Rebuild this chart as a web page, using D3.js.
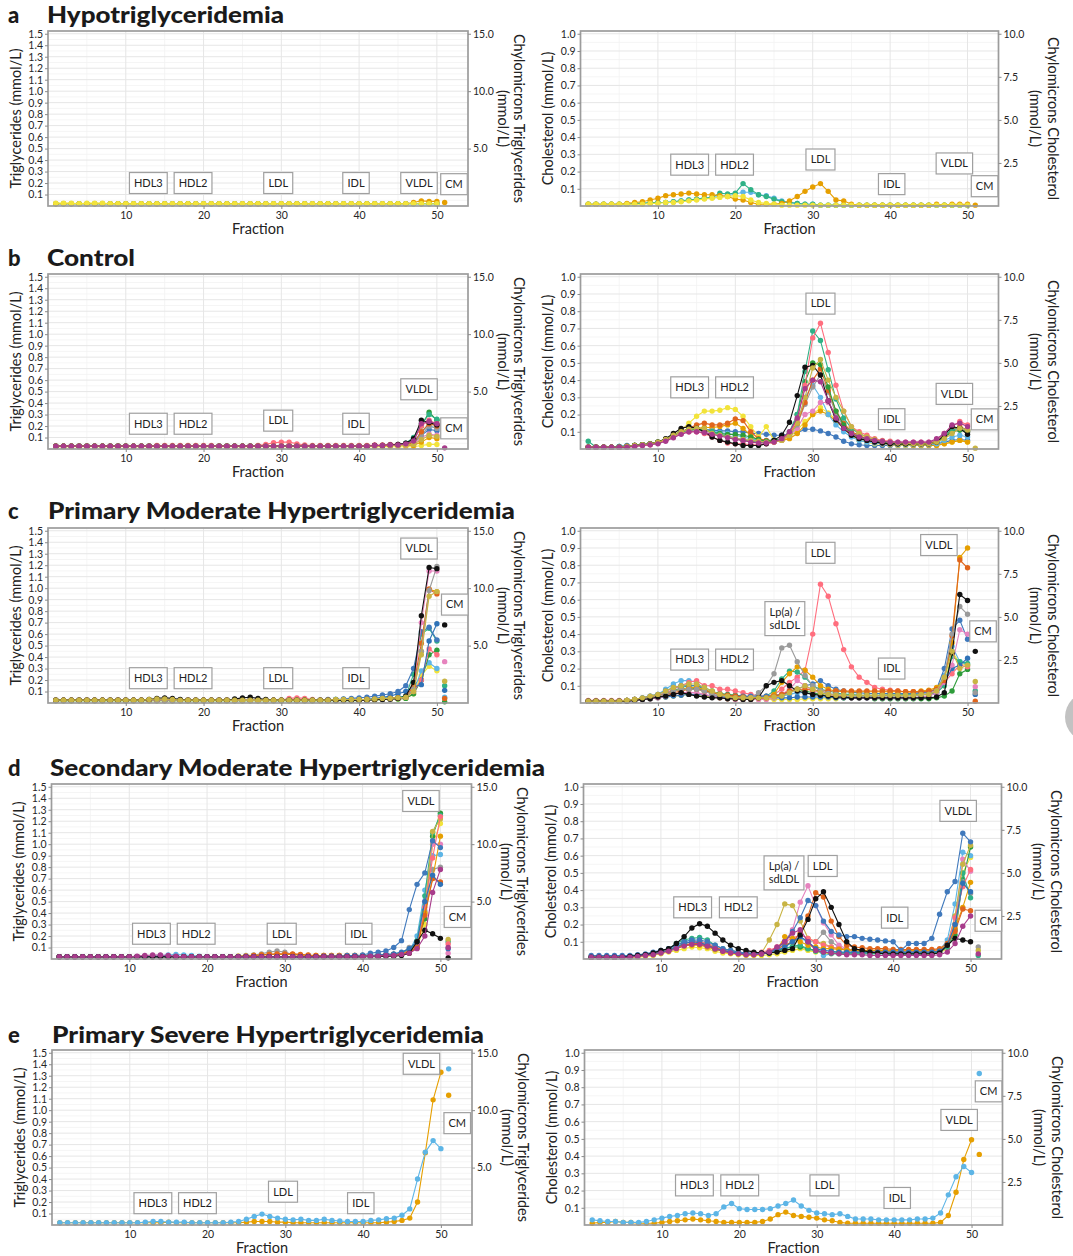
<!DOCTYPE html>
<html>
<head>
<meta charset="utf-8">
<script src="https://cdn.jsdelivr.net/npm/d3@7"></script>
<style>
  body { margin: 0; background: #fff; }
  text { font-family: Lato, "Open Sans", "DejaVu Sans", sans-serif; }
</style>
</head>
<body>
<script>
// fractions 1..50 are connected, fraction 51 (CM) is a lone point on the right axis
const fractions = [1,2,3,4,5,6,7,8,9,10,11,12,13,14,15,16,17,18,19,20,21,22,23,24,25,26,27,28,29,30,31,32,33,34,35,36,37,38,39,40,41,42,43,44,45,46,47,48,49,50];
const cmFraction = 51;
const tgTicks = [0.1,0.2,0.3,0.4,0.5,0.6,0.7,0.8,0.9,1.0,1.1,1.2,1.3,1.4,1.5];
const cholTicks = [0.1,0.2,0.3,0.4,0.5,0.6,0.7,0.8,0.9,1.0];
const tgRightTicks = [5, 10, 15];
const cholRightTicks = [2.5, 5, 7.5, 10];
const fractionTicks = [10, 20, 30, 40, 50];

const pal = {
  orange: "#E69F00", skyblue: "#5DB5E6", teal: "#2FB186", yellow: "#F2E33A",
  steel: "#4079BC", blue: "#2F72B7", vermillion: "#E0651C", pink: "#E683BE",
  black: "#111111", gray: "#9A9A9A", salmon: "#FF6E7E", olive: "#C8B444",
  green: "#2E9C3A", magenta: "#A83B8B"
};

// ---------- a: Hypotriglyceridemia ----------
const hypoColors = [pal.skyblue, pal.teal, pal.orange, pal.yellow];
const hypoTg = [
  [.02,.02,.02,.02,.02,.02,.02,.02,.02,.02, .02,.02,.02,.02,.02,.02,.02,.02,.02,.02, .02,.02,.02,.02,.02,.02,.02,.02,.02,.02, .02,.02,.02,.02,.02,.02,.02,.02,.02,.02, .02,.02,.02,.02,.02,.02,.02,.02,.02,.02],
  [.02,.02,.02,.02,.02,.02,.02,.02,.02,.02, .02,.02,.02,.02,.02,.02,.02,.02,.02,.02, .02,.02,.02,.02,.02,.02,.02,.02,.02,.02, .02,.02,.02,.02,.02,.02,.02,.02,.02,.02, .02,.02,.02,.02,.02,.02,.02,.02,.02,.02],
  [.02,.02,.02,.02,.02,.02,.02,.02,.02,.02, .02,.02,.02,.02,.02,.02,.02,.02,.02,.02, .02,.02,.02,.02,.02,.02,.02,.02,.02,.02, .02,.02,.02,.02,.02,.02,.02,.02,.02,.02, .02,.02,.02,.02,.02,.02,.03,.045,.04,.04],
  [.025,.025,.025,.02,.025,.025,.025,.02,.02,.02, .02,.02,.02,.02,.02,.02,.02,.02,.02,.02, .02,.02,.02,.02,.02,.02,.02,.02,.02,.02, .02,.02,.02,.02,.02,.02,.02,.02,.02,.02, .02,.02,.02,.02,.02,.02,.02,.02,.02,.02]
];
const hypoTgCM = [null, null, 0.3, null];
const hypoChol = [
  [.01,.01,.01,.01,.01,.01,.015,.015,.015,.02, .02,.025,.03,.035,.04,.045,.05,.055,.06,.07, .08,.08,.065,.06,.045,.03,.02,.015,.01,.01, .005,.005,.005,.005,.005,.005,.005,.005,.005,.005, .005,.005,.005,.005,.005,.005,.005,.005,.005,.005],
  [.01,.01,.01,.01,.01,.01,.015,.015,.02,.02, .02,.025,.03,.035,.04,.045,.05,.075,.07,.075, .13,.095,.065,.055,.04,.025,.02,.015,.01,.01, .005,.005,.005,.005,.005,.005,.005,.005,.005,.005, .005,.005,.005,.005,.005,.005,.005,.005,.005,.005],
  [.01,.01,.01,.01,.01,.015,.02,.025,.035,.045, .06,.065,.07,.075,.07,.065,.065,.06,.055,.04, .035,.02,.01,.01,.01,.015,.03,.055,.085,.11, .13,.085,.035,.03,.01,.005,.005,.005,.005,.005, .005,.005,.005,.005,.005,.01,.005,.01,.01,.01],
  [.01,.01,.01,.01,.01,.01,.01,.01,.015,.015, .02,.02,.025,.03,.035,.04,.045,.05,.055,.06, .055,.035,.02,.015,.01,.005,.005,.005,.005,.005, .005,.005,.005,.005,.005,.005,.005,.005,.005,.005, .005,.005,.005,.005,.005,.005,.005,.005,.005,.005]
];
const hypoCholCM = [null, null, 0.05, null];
const hypoTgLabels = [["HDL3",12.9,.2],["HDL2",18.65,.2],["LDL",29.6,.2],["IDL",39.6,.2],["VLDL",47.7,.2],["CM",52.2,.19]];
const hypoCholLabels = [["HDL3",14.1,.24],["HDL2",19.9,.24],["LDL",31,.27],["IDL",40.2,.127],["VLDL",48.3,.247],["CM",52.2,.115]];

// ---------- b: Control ----------
const ctrlColors = [pal.steel, pal.yellow, pal.orange, pal.skyblue, pal.pink, pal.gray, pal.vermillion, pal.green, pal.teal, pal.salmon, pal.black, pal.olive, pal.magenta];
const ctrlTg = [
  [.025,.025,.025,.025,.025,.025,.025,.025,.025,.025, .025,.025,.025,.025,.025,.025,.025,.025,.025,.025, .025,.025,.025,.025,.025,.025,.025,.025,.025,.025, .025,.025,.025,.025,.025,.025,.025,.025,.025,.025, .025,.03,.03,.03,.035,.04,.05,.12,.17,.16],
  [.02,.02,.02,.02,.02,.02,.02,.02,.02,.02, .02,.02,.02,.02,.02,.02,.02,.02,.02,.02, .02,.02,.02,.02,.02,.02,.02,.02,.02,.02, .02,.02,.02,.02,.02,.02,.02,.02,.02,.02, .02,.02,.02,.02,.02,.02,.02,.03,.04,.04],
  [.025,.025,.025,.025,.025,.025,.025,.025,.025,.025, .025,.025,.025,.025,.025,.025,.025,.025,.025,.025, .025,.025,.025,.025,.025,.025,.025,.025,.025,.025, .025,.025,.025,.025,.025,.025,.025,.025,.025,.025, .025,.025,.025,.03,.03,.03,.03,.06,.1,.09],
  [.025,.025,.025,.025,.025,.025,.025,.025,.025,.025, .025,.025,.025,.025,.025,.025,.025,.025,.025,.025, .025,.025,.025,.025,.025,.025,.025,.025,.025,.025, .025,.025,.025,.025,.025,.025,.025,.025,.025,.025, .025,.03,.03,.03,.035,.04,.06,.15,.2,.18],
  [.025,.025,.025,.025,.025,.025,.025,.025,.025,.025, .025,.025,.025,.025,.025,.025,.025,.025,.025,.025, .025,.025,.025,.025,.025,.025,.025,.025,.025,.025, .025,.025,.025,.025,.025,.025,.025,.025,.025,.025, .025,.025,.03,.03,.03,.035,.04,.1,.13,.12],
  [.025,.025,.025,.025,.025,.025,.025,.025,.025,.025, .025,.025,.025,.025,.025,.025,.025,.025,.025,.025, .025,.025,.025,.025,.025,.025,.025,.025,.025,.025, .025,.025,.025,.025,.025,.025,.025,.025,.025,.025, .025,.03,.03,.03,.035,.04,.05,.12,.2,.18],
  [.025,.025,.025,.025,.025,.025,.025,.025,.025,.025, .025,.025,.025,.025,.025,.025,.025,.025,.025,.025, .025,.025,.025,.025,.025,.025,.025,.025,.025,.025, .025,.025,.025,.025,.025,.025,.025,.025,.025,.025, .025,.03,.03,.03,.035,.04,.05,.15,.22,.2],
  [.025,.025,.025,.025,.025,.025,.025,.025,.025,.025, .025,.025,.025,.025,.025,.025,.025,.025,.025,.025, .025,.025,.025,.025,.025,.025,.025,.025,.025,.025, .025,.025,.025,.025,.025,.025,.025,.025,.025,.025, .025,.03,.03,.035,.035,.045,.08,.2,.32,.25],
  [.025,.025,.025,.025,.025,.025,.025,.025,.025,.025, .025,.025,.025,.025,.025,.025,.025,.025,.025,.025, .025,.025,.025,.025,.025,.025,.025,.025,.025,.025, .025,.025,.025,.025,.025,.025,.025,.025,.025,.025, .025,.03,.03,.035,.04,.05,.1,.22,.3,.26],
  [.025,.025,.025,.025,.025,.025,.025,.025,.025,.025, .025,.025,.025,.03,.03,.03,.03,.03,.03,.03, .03,.025,.025,.025,.025,.025,.03,.04,.055,.06, .06,.045,.035,.03,.03,.03,.03,.03,.03,.03, .03,.035,.035,.04,.04,.045,.07,.2,.25,.22],
  [.025,.025,.025,.025,.025,.025,.025,.025,.025,.025, .025,.025,.025,.025,.025,.025,.025,.025,.025,.025, .025,.025,.025,.025,.025,.025,.025,.025,.025,.025, .025,.025,.025,.025,.025,.025,.025,.025,.025,.025, .025,.03,.03,.035,.04,.05,.09,.25,.23,.21],
  [.025,.025,.025,.025,.025,.025,.025,.025,.025,.025, .025,.025,.025,.025,.025,.025,.025,.025,.025,.025, .025,.025,.025,.025,.025,.025,.025,.025,.025,.025, .025,.025,.025,.025,.025,.025,.025,.025,.025,.025, .025,.025,.03,.03,.03,.035,.04,.08,.12,.11],
  [.025,.025,.025,.025,.025,.025,.025,.025,.025,.025, .025,.025,.025,.025,.025,.025,.025,.025,.025,.025, .025,.025,.025,.025,.025,.025,.025,.025,.025,.025, .025,.025,.025,.025,.025,.025,.025,.025,.025,.025, .025,.03,.03,.035,.035,.045,.07,.22,.24,.22]
];
const ctrlTgCM = [null,null,null,null,null,null,null,null,null,null,null,null,0.1];
const ctrlChol = [
  [.01,.01,.01,.01,.015,.02,.02,.025,.03,.04, .055,.08,.1,.11,.12,.115,.11,.105,.105,.1, .1,.09,.09,.085,.08,.08,.085,.095,.115,.115, .105,.09,.07,.045,.03,.025,.02,.02,.02,.02, .02,.02,.02,.02,.025,.03,.04,.05,.055,.05],
  [.01,.01,.01,.01,.01,.015,.02,.025,.03,.04, .055,.08,.11,.15,.19,.22,.22,.225,.24,.23, .19,.13,.07,.13,.05,.05,.07,.11,.16,.2, .24,.21,.17,.12,.08,.05,.04,.03,.03,.025, .02,.02,.02,.02,.02,.02,.03,.04,.05,.04],
  [.01,.01,.01,.01,.01,.015,.02,.025,.03,.04, .055,.08,.1,.11,.12,.125,.125,.13,.14,.15, .12,.08,.05,.04,.04,.05,.06,.09,.14,.2, .22,.2,.16,.12,.08,.06,.05,.04,.03,.03, .025,.025,.02,.02,.02,.02,.03,.04,.05,.04],
  [.01,.01,.01,.01,.015,.015,.02,.025,.03,.04, .055,.08,.1,.115,.12,.115,.105,.095,.09,.08, .07,.06,.05,.05,.05,.06,.09,.15,.3,.37, .3,.2,.14,.1,.07,.05,.04,.035,.03,.03, .025,.025,.025,.025,.025,.03,.05,.07,.08,.07],
  [.01,.01,.01,.01,.01,.015,.02,.02,.025,.035, .05,.07,.09,.1,.1,.095,.09,.08,.07,.06, .05,.045,.04,.04,.04,.05,.08,.12,.2,.22, .27,.27,.2,.14,.1,.07,.05,.04,.035,.03, .03,.03,.03,.03,.03,.04,.07,.1,.12,.1],
  [.01,.01,.01,.01,.01,.015,.02,.025,.03,.04, .055,.075,.095,.105,.11,.105,.095,.085,.075,.065, .055,.05,.045,.045,.05,.06,.08,.14,.26,.36, .43,.33,.2,.13,.09,.07,.05,.04,.035,.03, .03,.03,.03,.03,.03,.04,.07,.1,.11,.1],
  [.01,.01,.01,.01,.01,.015,.02,.025,.03,.04, .055,.08,.1,.12,.14,.15,.14,.14,.15,.175, .165,.1,.06,.05,.05,.06,.09,.15,.27,.4, .465,.34,.22,.15,.1,.08,.06,.05,.04,.035, .03,.03,.03,.03,.03,.04,.07,.11,.13,.11],
  [.01,.01,.01,.01,.01,.015,.02,.025,.03,.04, .055,.08,.1,.11,.115,.11,.1,.09,.085,.085, .08,.07,.055,.045,.05,.06,.09,.2,.39,.5, .49,.36,.22,.14,.09,.07,.06,.05,.04,.035, .03,.03,.03,.03,.03,.04,.07,.1,.11,.1],
  [.045,.01,.01,.01,.015,.015,.02,.025,.03,.04, .055,.08,.1,.115,.12,.115,.1,.085,.07,.06, .05,.045,.04,.04,.045,.06,.1,.2,.45,.685, .63,.46,.29,.18,.12,.09,.07,.055,.045,.04, .035,.035,.035,.035,.035,.05,.08,.11,.12,.11],
  [.01,.01,.01,.01,.01,.01,.015,.02,.025,.035, .05,.07,.09,.1,.1,.09,.07,.05,.035,.03, .03,.025,.025,.03,.04,.06,.09,.17,.37,.645, .73,.56,.37,.22,.13,.1,.08,.06,.05,.045, .04,.04,.04,.04,.04,.05,.09,.13,.16,.14],
  [.01,.01,.01,.01,.01,.015,.02,.025,.03,.04, .06,.09,.12,.13,.12,.1,.07,.05,.04,.03, .02,.02,.02,.03,.05,.08,.155,.31,.475,.485, .43,.28,.17,.12,.08,.06,.05,.04,.035,.03, .03,.03,.03,.03,.03,.04,.08,.13,.12,.085],
  [.01,.01,.01,.01,.01,.015,.02,.025,.03,.04, .055,.08,.1,.115,.12,.12,.09,.08,.07,.06, .055,.05,.045,.04,.04,.05,.08,.15,.3,.47, .52,.4,.3,.22,.13,.09,.07,.055,.045,.04, .035,.035,.03,.03,.03,.04,.06,.09,.12,.11],
  [.01,.01,.01,.01,.01,.01,.015,.02,.025,.03, .045,.065,.085,.1,.1,.095,.085,.075,.065,.055, .05,.04,.035,.035,.04,.06,.1,.18,.35,.4, .39,.28,.18,.12,.09,.07,.06,.05,.045,.04, .04,.04,.04,.04,.04,.06,.09,.14,.15,.13]
];
const ctrlCholCM = [null,null,null,null,null,null,null,null,null,null,null,0.05,null];
const ctrlTgLabels = [["HDL3",12.9,.22],["HDL2",18.65,.22],["LDL",29.6,.247],["IDL",39.6,.22],["VLDL",47.7,.52],["CM",52.2,.18]];
const ctrlCholLabels = [["HDL3",14.1,.358],["HDL2",19.9,.358],["LDL",31,.844],["IDL",40.2,.173],["VLDL",48.3,.32],["CM",52.2,.172]];

// ---------- c: Primary Moderate Hypertriglyceridemia ----------
const primColors = [pal.yellow, pal.skyblue, pal.green, pal.salmon, pal.teal, pal.blue, pal.steel, pal.pink, pal.orange, pal.vermillion, pal.gray, pal.black, pal.olive];
const primTg = [
  [.02,.02,.02,.02,.02,.02,.02,.02,.02,.02, .02,.02,.02,.02,.02,.02,.02,.02,.02,.02, .02,.02,.02,.02,.02,.02,.02,.02,.02,.02, .02,.02,.02,.02,.02,.02,.025,.025,.025,.025, .025,.03,.03,.03,.035,.04,.08,.24,.32,.28],
  [.025,.025,.025,.025,.025,.025,.025,.025,.025,.025, .025,.025,.025,.025,.025,.025,.025,.025,.025,.025, .025,.025,.025,.025,.025,.025,.025,.025,.025,.025, .025,.025,.025,.025,.025,.025,.03,.03,.03,.03, .03,.035,.04,.045,.05,.06,.1,.28,.35,.3],
  [.02,.02,.02,.02,.02,.02,.02,.02,.02,.02, .02,.02,.02,.02,.02,.02,.02,.02,.02,.02, .02,.02,.02,.02,.02,.02,.02,.02,.02,.02, .02,.02,.02,.02,.02,.02,.02,.02,.02,.02, .025,.025,.03,.03,.035,.04,.08,.2,.42,.46],
  [.025,.025,.025,.025,.025,.025,.025,.025,.025,.025, .025,.025,.025,.025,.025,.025,.025,.025,.025,.025, .025,.025,.025,.025,.025,.025,.025,.025,.025,.025, .04,.045,.04,.03,.025,.025,.025,.03,.03,.03, .03,.03,.035,.035,.04,.05,.1,.2,.47,.42],
  [.025,.025,.025,.025,.025,.025,.025,.025,.025,.025, .025,.025,.025,.025,.025,.025,.025,.025,.025,.025, .025,.025,.025,.025,.025,.025,.025,.025,.025,.025, .025,.025,.025,.025,.025,.025,.03,.03,.03,.03, .03,.035,.04,.045,.05,.06,.25,.6,.65,.54],
  [.025,.025,.025,.025,.025,.025,.025,.025,.025,.025, .025,.025,.025,.025,.025,.025,.025,.025,.025,.025, .025,.025,.025,.025,.025,.025,.025,.025,.025,.025, .025,.025,.025,.025,.025,.025,.025,.03,.03,.03, .03,.04,.05,.06,.08,.1,.14,.16,.54,.69],
  [.025,.025,.025,.025,.025,.025,.025,.025,.025,.025, .025,.025,.025,.025,.025,.025,.025,.025,.025,.025, .025,.025,.025,.025,.025,.025,.025,.025,.025,.025, .025,.025,.025,.025,.025,.03,.03,.035,.04,.045, .05,.06,.07,.08,.1,.15,.3,.62,.66,.55],
  [.025,.025,.025,.025,.025,.025,.025,.025,.025,.025, .025,.025,.025,.025,.025,.025,.025,.025,.025,.025, .025,.025,.025,.025,.025,.025,.025,.025,.025,.025, .025,.025,.025,.025,.025,.025,.025,.025,.025,.025, .025,.03,.03,.035,.04,.05,.12,.7,1.15,1.15],
  [.025,.025,.025,.025,.025,.025,.025,.025,.025,.025, .025,.025,.025,.025,.025,.025,.025,.025,.025,.025, .025,.025,.025,.025,.025,.025,.025,.025,.025,.025, .025,.025,.025,.025,.025,.025,.025,.025,.025,.025, .03,.03,.035,.04,.045,.05,.12,.45,.99,.97],
  [.025,.025,.025,.025,.025,.025,.025,.025,.025,.025, .025,.025,.025,.025,.025,.025,.025,.025,.025,.025, .025,.025,.025,.025,.025,.025,.025,.025,.025,.025, .025,.025,.025,.025,.025,.025,.025,.025,.025,.025, .03,.03,.035,.04,.045,.05,.15,.52,.99,.95],
  [.025,.025,.025,.025,.025,.025,.025,.025,.025,.025, .025,.025,.025,.025,.025,.025,.025,.025,.025,.025, .025,.025,.025,.025,.025,.025,.025,.025,.025,.025, .025,.025,.025,.025,.025,.025,.025,.025,.025,.025, .025,.03,.03,.035,.04,.05,.12,.45,.98,1.19],
  [.025,.025,.025,.025,.025,.025,.025,.025,.025,.025, .025,.025,.03,.04,.045,.04,.03,.025,.025,.025, .025,.025,.025,.035,.045,.05,.04,.03,.025,.025, .025,.025,.025,.025,.025,.025,.025,.025,.025,.025, .025,.03,.03,.035,.04,.06,.18,.76,1.18,1.17],
  [.025,.025,.025,.025,.025,.025,.025,.025,.025,.025, .025,.025,.03,.035,.035,.03,.025,.025,.025,.025, .025,.025,.025,.025,.025,.025,.025,.025,.025,.025, .025,.025,.025,.025,.025,.025,.03,.03,.03,.03, .03,.035,.04,.04,.045,.05,.1,.42,.93,.97]
];
const primTgCM = [null, 0.5, 0.1, null, 1.5, 1.1, null, 3.6, null, 0.4, null, 6.8, 1.9];
const primChol = [
  [.01,.01,.01,.01,.01,.015,.015,.02,.025,.03, .035,.04,.045,.05,.045,.04,.035,.03,.025,.02, .02,.02,.02,.02,.02,.02,.02,.02,.025,.025, .025,.025,.025,.03,.03,.03,.035,.04,.045,.05, .05,.055,.06,.065,.07,.08,.1,.3,.23,.22],
  [.01,.01,.01,.01,.01,.015,.02,.03,.04,.05, .08,.11,.13,.13,.12,.08,.05,.04,.035,.03, .03,.03,.03,.03,.035,.04,.05,.06,.06,.05, .045,.04,.04,.04,.04,.04,.04,.04,.045,.045, .045,.05,.05,.055,.06,.08,.16,.33,.24,.22],
  [.01,.01,.01,.01,.01,.015,.02,.025,.03,.04, .06,.07,.08,.08,.085,.07,.065,.055,.05,.045, .04,.035,.03,.03,.035,.05,.07,.08,.07,.06, .05,.04,.035,.03,.03,.03,.03,.025,.025,.025, .025,.025,.025,.025,.025,.03,.04,.07,.17,.195],
  [.015,.015,.015,.015,.015,.015,.02,.025,.03,.04, .06,.08,.1,.12,.13,.1,.1,.08,.08,.07, .06,.05,.04,.04,.05,.08,.12,.15,.19,.4, .69,.62,.46,.31,.21,.15,.12,.09,.08,.075, .07,.065,.065,.06,.06,.07,.12,.17,.22,.21],
  [.01,.01,.01,.01,.01,.015,.02,.025,.03,.04, .05,.07,.09,.1,.1,.09,.07,.05,.04,.03, .03,.03,.03,.04,.07,.14,.185,.18,.15,.1, .08,.07,.06,.05,.05,.045,.045,.045,.045,.045, .045,.05,.05,.05,.05,.06,.1,.27,.24,.23],
  [.01,.01,.01,.01,.01,.01,.015,.02,.025,.03, .035,.04,.045,.05,.05,.045,.04,.035,.03,.03, .03,.03,.03,.03,.03,.03,.03,.035,.035,.035, .035,.035,.03,.03,.03,.03,.03,.03,.03,.03, .03,.03,.03,.035,.04,.06,.12,.2,.22,.26],
  [.01,.01,.01,.01,.01,.015,.02,.03,.04,.05, .07,.09,.1,.1,.1,.08,.06,.05,.045,.04, .04,.04,.04,.04,.045,.05,.06,.08,.1,.11, .13,.1,.08,.07,.06,.06,.055,.055,.055,.055, .055,.055,.055,.06,.065,.08,.2,.43,.48,.37],
  [.01,.01,.01,.01,.01,.01,.015,.02,.025,.03, .04,.05,.06,.06,.06,.05,.04,.03,.025,.02, .02,.02,.02,.02,.03,.05,.08,.13,.1,.07, .06,.05,.04,.035,.03,.03,.03,.03,.03,.03, .03,.03,.03,.035,.04,.06,.12,.22,.425,.4],
  [.01,.01,.01,.01,.01,.015,.02,.025,.03,.04, .05,.07,.08,.09,.09,.08,.06,.05,.04,.035, .03,.03,.03,.03,.05,.12,.17,.21,.19,.15, .1,.08,.07,.065,.065,.065,.065,.065,.065,.065, .065,.065,.065,.07,.075,.09,.14,.35,.845,.9],
  [.01,.01,.01,.01,.01,.015,.02,.025,.03,.04, .05,.06,.07,.08,.08,.07,.06,.05,.045,.04, .035,.03,.03,.03,.04,.05,.07,.08,.08,.075, .07,.07,.07,.07,.07,.07,.07,.07,.07,.07, .07,.065,.065,.065,.07,.08,.13,.39,.83,.785],
  [.01,.01,.01,.01,.01,.015,.02,.025,.03,.04, .05,.07,.08,.08,.08,.07,.05,.04,.035,.03, .03,.03,.06,.1,.17,.32,.335,.24,.16,.1, .07,.055,.05,.045,.04,.04,.04,.04,.04,.04, .04,.04,.04,.045,.05,.07,.15,.4,.56,.515],
  [.01,.01,.01,.01,.01,.01,.015,.02,.025,.035, .04,.05,.06,.05,.04,.035,.03,.03,.025,.025, .02,.02,.03,.1,.12,.13,.1,.07,.06,.05, .045,.04,.035,.035,.03,.03,.03,.03,.03,.03, .03,.03,.03,.03,.03,.035,.06,.29,.63,.595],
  [.01,.01,.01,.01,.01,.015,.02,.03,.04,.05, .07,.09,.1,.11,.11,.09,.07,.05,.04,.03, .03,.03,.03,.03,.035,.04,.06,.08,.1,.08, .06,.05,.045,.045,.045,.045,.045,.045,.045,.045, .045,.045,.045,.05,.05,.07,.15,.3,.2,.22]
];
const primCholCM = [null, null, null, null, 0.7, 0.5, null, 0.95, null, 0.1, 0.6, 3.0, 1.25];
const primTgLabels = [["HDL3",12.9,.216],["HDL2",18.65,.216],["LDL",29.6,.216],["IDL",39.6,.216],["VLDL",47.7,1.345],["CM",52.3,.857]];
const primCholLabels = [["HDL3",14.1,.252],["HDL2",19.9,.252],["Lp(a) /|sdLDL",26.4,.49],["LDL",31,.872],["IDL",40.2,.2],["VLDL",46.3,.917],["CM",52,.416]];

// ---------- d: Secondary Moderate Hypertriglyceridemia ----------
const secColors = [pal.yellow, pal.skyblue, pal.green, pal.gray, pal.pink, pal.teal, pal.olive, pal.salmon, pal.orange, pal.vermillion, pal.blue, pal.steel, pal.black, pal.magenta];
const secTg = [
  [.02,.02,.02,.02,.02,.02,.02,.02,.02,.02, .02,.02,.02,.02,.02,.02,.02,.02,.02,.02, .02,.02,.02,.02,.02,.02,.02,.02,.02,.02, .02,.02,.02,.02,.02,.02,.02,.02,.02,.02, .03,.03,.035,.035,.04,.05,.1,.3,1.0,1.18],
  [.02,.02,.02,.02,.02,.02,.02,.02,.02,.02, .02,.02,.025,.03,.035,.04,.035,.03,.025,.02, .02,.02,.02,.02,.02,.02,.02,.02,.02,.02, .02,.02,.02,.02,.02,.02,.02,.02,.02,.02, .03,.03,.035,.04,.05,.07,.2,.6,.9,.91],
  [.02,.02,.02,.02,.02,.02,.02,.02,.02,.02, .02,.02,.02,.02,.02,.02,.02,.02,.02,.02, .02,.02,.02,.02,.02,.02,.02,.02,.02,.02, .02,.02,.02,.02,.02,.02,.02,.02,.02,.02, .03,.03,.035,.04,.05,.07,.15,.35,1.07,1.27],
  [.02,.02,.02,.02,.02,.02,.02,.02,.02,.02, .02,.02,.02,.02,.02,.02,.02,.02,.02,.02, .02,.02,.02,.025,.03,.035,.045,.06,.07,.06, .04,.03,.03,.025,.025,.025,.025,.025,.03,.03, .03,.035,.035,.04,.05,.1,.14,.42,.78,.8],
  [.02,.02,.02,.02,.02,.02,.02,.02,.02,.02, .02,.02,.02,.02,.02,.02,.02,.02,.02,.02, .02,.02,.02,.02,.02,.02,.02,.02,.02,.02, .02,.02,.02,.02,.02,.02,.02,.02,.02,.02, .03,.03,.035,.04,.045,.06,.12,.5,1.0,1.0],
  [.02,.02,.02,.02,.02,.02,.02,.02,.02,.02, .02,.02,.02,.02,.02,.02,.02,.02,.02,.02, .02,.02,.02,.02,.02,.02,.02,.02,.02,.02, .02,.02,.02,.02,.02,.02,.02,.02,.02,.02, .03,.03,.035,.04,.05,.08,.16,.55,1.1,1.25],
  [.02,.02,.02,.02,.02,.02,.02,.02,.02,.02, .02,.02,.02,.02,.02,.02,.02,.02,.02,.02, .02,.02,.02,.02,.02,.02,.02,.02,.02,.02, .02,.02,.02,.02,.025,.025,.025,.025,.025,.025, .03,.03,.035,.04,.045,.06,.13,.4,1.11,1.22],
  [.02,.02,.02,.02,.02,.02,.02,.02,.02,.02, .02,.02,.02,.02,.02,.02,.02,.02,.02,.02, .02,.02,.02,.02,.02,.02,.02,.02,.02,.02, .02,.02,.02,.02,.02,.02,.02,.02,.02,.02, .03,.03,.035,.04,.05,.07,.12,.45,.88,1.24],
  [.02,.02,.02,.02,.02,.02,.02,.02,.02,.02, .02,.02,.02,.02,.02,.02,.02,.02,.02,.02, .02,.02,.02,.025,.025,.03,.035,.04,.04,.04, .04,.035,.03,.03,.03,.03,.03,.03,.03,.03, .03,.03,.035,.04,.045,.06,.1,.4,.7,1.07],
  [.02,.02,.02,.02,.02,.02,.02,.02,.02,.02, .02,.02,.02,.02,.02,.02,.02,.02,.02,.02, .02,.02,.02,.02,.025,.03,.035,.04,.045,.045, .045,.04,.035,.03,.03,.03,.03,.03,.03,.03, .03,.03,.035,.04,.045,.06,.1,.38,.7,.67],
  [.02,.02,.02,.02,.02,.02,.02,.02,.02,.02, .02,.02,.02,.02,.02,.02,.02,.02,.02,.02, .02,.02,.02,.02,.02,.02,.02,.02,.02,.02, .02,.02,.02,.02,.02,.02,.02,.02,.02,.02, .03,.035,.04,.045,.06,.09,.15,.5,.73,.65],
  [.02,.02,.02,.02,.02,.02,.02,.02,.02,.02, .02,.02,.02,.02,.02,.02,.02,.02,.02,.02, .02,.02,.02,.02,.02,.02,.02,.02,.02,.02, .02,.02,.02,.02,.025,.025,.025,.03,.03,.035, .05,.06,.07,.1,.16,.43,.65,.75,1.03,.97],
  [.02,.02,.02,.02,.02,.02,.02,.02,.02,.02, .02,.02,.02,.02,.02,.02,.02,.02,.02,.02, .02,.02,.02,.02,.02,.02,.02,.02,.02,.02, .02,.02,.02,.02,.02,.02,.02,.02,.02,.02, .02,.02,.025,.025,.03,.05,.15,.25,.22,.18],
  [.02,.02,.02,.02,.02,.02,.02,.02,.02,.02, .025,.03,.035,.035,.03,.025,.02,.02,.02,.02, .02,.02,.02,.02,.02,.02,.02,.02,.02,.02, .02,.02,.02,.02,.02,.02,.02,.02,.02,.02, .025,.025,.03,.03,.04,.05,.09,.2,.58,.78]
];
const secTgCM = [null, null, null, null, 0.5, 1.5, 1.7, 1.3, null, null, 0.9, null, 0.1, 1.0];
const secChol = [
  [.01,.01,.01,.01,.01,.01,.01,.015,.02,.03, .04,.05,.06,.07,.065,.06,.045,.035,.03,.025, .02,.02,.02,.025,.03,.04,.05,.06,.05,.04, .035,.03,.03,.03,.03,.03,.03,.03,.03,.03, .03,.03,.03,.03,.03,.035,.06,.2,.5,.59],
  [.01,.01,.01,.01,.01,.015,.02,.025,.035,.045, .06,.08,.1,.11,.1,.08,.06,.05,.04,.035, .03,.03,.03,.035,.05,.07,.1,.12,.1,.06, .02,.03,.03,.03,.03,.03,.03,.03,.03,.03, .03,.03,.03,.03,.035,.05,.11,.32,.62,.6],
  [.01,.01,.01,.01,.01,.015,.02,.025,.03,.04, .05,.07,.09,.1,.1,.09,.07,.05,.04,.035, .03,.03,.03,.04,.05,.06,.07,.07,.06,.05, .04,.035,.035,.035,.035,.035,.035,.035,.035,.035, .035,.035,.035,.035,.035,.04,.07,.14,.46,.65],
  [.01,.01,.01,.01,.01,.015,.02,.025,.03,.04, .05,.07,.09,.1,.1,.09,.07,.05,.04,.03, .03,.03,.03,.04,.06,.08,.1,.13,.1,.1, .155,.1,.07,.05,.045,.04,.04,.04,.04,.04, .04,.04,.04,.04,.04,.045,.07,.17,.45,.38],
  [.01,.01,.01,.01,.01,.015,.02,.025,.03,.04, .05,.07,.08,.09,.085,.07,.055,.045,.04,.035, .03,.03,.03,.04,.06,.1,.17,.33,.425,.31, .21,.14,.08,.06,.05,.045,.045,.045,.045,.045, .045,.045,.045,.045,.045,.05,.08,.2,.58,.51],
  [.01,.01,.01,.01,.01,.015,.02,.025,.03,.045, .06,.09,.11,.12,.125,.11,.08,.06,.05,.04, .035,.03,.03,.035,.045,.06,.075,.08,.06,.045, .04,.035,.035,.035,.035,.035,.035,.035,.035,.035, .035,.035,.035,.035,.035,.04,.07,.17,.5,.355],
  [.01,.01,.01,.01,.01,.01,.015,.02,.025,.035, .05,.07,.08,.09,.09,.08,.06,.05,.04,.035, .03,.03,.035,.11,.2,.32,.31,.22,.12,.1, .09,.07,.06,.05,.05,.045,.045,.045,.045,.045, .045,.045,.045,.045,.045,.05,.08,.25,.55,.66],
  [.01,.01,.01,.01,.01,.015,.02,.025,.03,.04, .05,.07,.09,.1,.1,.09,.07,.055,.045,.04, .035,.035,.04,.05,.07,.1,.12,.14,.12,.1, .08,.07,.06,.055,.05,.05,.045,.045,.045,.045, .045,.045,.045,.045,.045,.05,.08,.24,.42,.52],
  [.01,.01,.01,.01,.01,.015,.02,.025,.03,.04, .05,.065,.08,.08,.08,.07,.055,.045,.035,.03, .025,.025,.03,.035,.05,.13,.12,.1,.08,.07, .06,.06,.055,.055,.05,.05,.05,.05,.05,.05, .05,.05,.05,.05,.05,.055,.08,.18,.3,.445],
  [.01,.01,.01,.01,.01,.015,.02,.025,.03,.04, .05,.07,.08,.09,.09,.08,.065,.05,.04,.035, .03,.03,.03,.04,.06,.08,.1,.15,.25,.385, .36,.22,.13,.08,.07,.065,.06,.06,.06,.055, .055,.055,.055,.055,.055,.06,.09,.16,.29,.28],
  [.01,.01,.01,.01,.01,.015,.02,.025,.03,.04, .05,.07,.09,.1,.095,.08,.06,.05,.04,.035, .03,.03,.03,.035,.05,.07,.1,.13,.1,.06, .05,.045,.04,.04,.04,.04,.04,.04,.04,.04, .04,.04,.04,.04,.04,.045,.08,.2,.44,.39],
  [.02,.02,.02,.02,.02,.02,.025,.03,.04,.05, .06,.08,.1,.11,.11,.1,.08,.06,.05,.04, .035,.035,.035,.04,.06,.1,.16,.24,.34,.31, .22,.16,.14,.13,.13,.12,.115,.11,.105,.1, .05,.09,.09,.09,.12,.26,.39,.45,.73,.68],
  [.01,.01,.01,.01,.01,.015,.02,.025,.035,.05, .06,.09,.13,.18,.205,.19,.15,.11,.08,.06, .05,.04,.035,.035,.04,.05,.06,.14,.23,.35, .39,.3,.2,.1,.06,.05,.04,.035,.03,.03, .03,.03,.03,.03,.03,.035,.08,.12,.11,.1],
  [.01,.01,.01,.01,.01,.01,.015,.02,.025,.035, .045,.06,.075,.085,.085,.075,.06,.045,.035,.03, .025,.025,.03,.04,.07,.1,.15,.17,.1,.05, .04,.035,.03,.025,.025,.025,.02,.02,.02,.02, .02,.02,.02,.02,.02,.025,.04,.09,.19,.25]
];
const secCholCM = [null, null, null, 0.7, null, 0.2, 0.5, null, null, null, null, null, null, 0.3];
const secTgLabels = [["HDL3",12.85,.22],["HDL2",18.6,.22],["LDL",29.6,.22],["IDL",39.5,.22],["VLDL",47.5,1.376],["CM",52.2,.366]];
const secCholLabels = [["HDL3",14.1,.3],["HDL2",20,.3],["Lp(a) /|sdLDL",25.9,.5],["LDL",30.9,.54],["IDL",40.2,.24],["VLDL",48.4,.86],["CM",52.3,.222]];

// ---------- e: Primary Severe Hypertriglyceridemia ----------
const sevColors = [pal.orange, pal.skyblue];
const sevTg = [
  [.02,.02,.02,.02,.02,.02,.02,.02,.02,.02, .02,.02,.02,.02,.025,.02,.02,.02,.02,.02, .02,.02,.02,.02,.025,.03,.03,.03,.025,.025, .02,.02,.02,.02,.02,.02,.02,.02,.02,.02, .02,.02,.025,.03,.04,.06,.2,.63,1.09,1.33],
  [.02,.02,.02,.02,.02,.02,.02,.02,.02,.02, .02,.025,.03,.03,.025,.025,.025,.02,.02,.02, .02,.02,.025,.03,.05,.075,.095,.075,.06,.05, .045,.05,.04,.04,.05,.04,.035,.03,.03,.03, .04,.045,.055,.06,.085,.14,.4,.635,.735,.665]
];
const sevTgCM = [11.3, 13.6];
const sevChol = [
  [.01,.015,.015,.02,.015,.015,.01,.01,.01,.015, .02,.025,.03,.035,.03,.025,.02,.015,.015,.015, .015,.015,.02,.035,.06,.075,.055,.05,.045,.04, .03,.025,.015,.01,.01,.01,.01,.01,.01,.01, .01,.01,.01,.01,.01,.015,.055,.19,.38,.495],
  [.03,.025,.02,.02,.015,.015,.015,.02,.03,.04, .05,.055,.065,.07,.065,.055,.065,.105,.125,.095, .09,.09,.09,.095,.11,.125,.145,.11,.085,.07, .065,.06,.065,.05,.035,.035,.035,.03,.03,.03, .03,.03,.035,.035,.04,.07,.175,.28,.34,.305]
];
const sevCholCM = [4.1, 8.8];
const sevTgLabels = [["HDL3",12.97,.19],["HDL2",18.7,.19],["LDL",29.7,.29],["IDL",39.7,.19],["VLDL",47.5,1.404],["CM",52.1,.887]];
const sevCholLabels = [["HDL3",14.2,.23],["HDL2",20.05,.23],["LDL",31,.23],["IDL",40.4,.157],["VLDL",48.4,.61],["CM",52.2,.776]];

// ---------- layout ----------
const W = 1073, H = 1256, PH = 175, LW = 420, RW = 418;
const rows = [
  { letter: "a", title: "Hypotriglyceridemia", tw: 237, tx: 47, ty: 23, top: 31, xl: 48, xr: 580.5,
    tg: [hypoColors, hypoTg, hypoTgCM, hypoTgLabels], ch: [hypoColors, hypoChol, hypoCholCM, hypoCholLabels] },
  { letter: "b", title: "Control", tw: 88, tx: 47, ty: 266, top: 274, xl: 48, xr: 580.5,
    tg: [ctrlColors, ctrlTg, ctrlTgCM, ctrlTgLabels], ch: [ctrlColors, ctrlChol, ctrlCholCM, ctrlCholLabels] },
  { letter: "c", title: "Primary Moderate Hypertriglyceridemia", tw: 467, tx: 48, ty: 519, top: 528, xl: 48, xr: 580.5,
    tg: [primColors, primTg, primTgCM, primTgLabels], ch: [primColors, primChol, primCholCM, primCholLabels] },
  { letter: "d", title: "Secondary Moderate Hypertriglyceridemia", tw: 495, tx: 50, ty: 776, top: 784, xl: 51.5, xr: 583.5,
    tg: [secColors, secTg, secTgCM, secTgLabels], ch: [secColors, secChol, secCholCM, secCholLabels] },
  { letter: "e", title: "Primary Severe Hypertriglyceridemia", tw: 432, tx: 52, ty: 1043, top: 1050, xl: 52, xr: 584.5,
    tg: [sevColors, sevTg, sevTgCM, sevTgLabels], ch: [sevColors, sevChol, sevCholCM, sevCholLabels] }
];

const svg = d3.select("body").append("svg")
  .attr("width", W)
  .attr("height", H);

svg.append("rect").attr("width", W).attr("height", H).attr("fill", "#fff");

function drawPanel(x0, top, w, kind, spec) {
  const [colors, series, cm, labels] = spec;
  const yMax = kind === "tg" ? 1.524 : 1.016;
  const x = d3.scaleLinear().domain([0, 54]).range([x0, x0 + w]);
  const y = d3.scaleLinear().domain([0, yMax]).range([top + PH, top]);
  const yR = d3.scaleLinear().domain([0, yMax * 10]).range([top + PH, top]);
  const g = svg.append("g");

  // grid
  const minorX = [5, 15, 25, 35, 45];
  const minorY = d3.range(0.05, yMax, 0.1);
  const majorY = kind === "tg" ? tgTicks : cholTicks;
  g.selectAll(".gmx").data(minorX).enter().append("line")
    .attr("x1", d => x(d)).attr("x2", d => x(d)).attr("y1", top).attr("y2", top + PH)
    .style("stroke", "#f3f3f3").style("stroke-width", 0.8);
  g.selectAll(".gmy").data(minorY).enter().append("line")
    .attr("x1", x0).attr("x2", x0 + w).attr("y1", d => y(d)).attr("y2", d => y(d))
    .style("stroke", "#f3f3f3").style("stroke-width", 0.8);
  g.selectAll(".gx").data(fractionTicks).enter().append("line")
    .attr("x1", d => x(d)).attr("x2", d => x(d)).attr("y1", top).attr("y2", top + PH)
    .style("stroke", "#e6e6e6").style("stroke-width", 1);
  g.selectAll(".gy").data(majorY).enter().append("line")
    .attr("x1", x0).attr("x2", x0 + w).attr("y1", d => y(d)).attr("y2", d => y(d))
    .style("stroke", "#e6e6e6").style("stroke-width", 1);

  // series
  const line = d3.line().x((d, i) => x(fractions[i])).y(d => y(d));
  series.forEach((vals, si) => {
    const col = colors[si];
    g.append("path").datum(vals)
      .attr("d", line)
      .style("fill", "none").style("stroke", col).style("stroke-width", 1.1);
    g.selectAll(null).data(vals).enter().append("circle")
      .attr("cx", (d, i) => x(fractions[i])).attr("cy", d => y(d))
      .attr("r", 2.7).style("fill", col);
    if (cm[si] !== null) {
      g.append("circle").attr("cx", x(cmFraction)).attr("cy", yR(cm[si]))
        .attr("r", 2.7).style("fill", col);
    }
  });

  // frame
  g.append("rect").attr("x", x0).attr("y", top).attr("width", w).attr("height", PH)
    .style("fill", "none").style("stroke", "#9c9c9c").style("stroke-width", 1.7);

  // axes
  const axL = g.append("g").attr("transform", `translate(${x0},0)`)
    .call(d3.axisLeft(y).tickValues(majorY).tickFormat(d3.format(".1f")).tickSize(3).tickPadding(2));
  const axR = g.append("g").attr("transform", `translate(${x0 + w},0)`)
    .call(d3.axisRight(yR).tickValues(kind === "tg" ? tgRightTicks : cholRightTicks)
      .tickFormat(d3.format(".1f")).tickSize(3).tickPadding(2));
  const axB = g.append("g").attr("transform", `translate(0,${top + PH})`)
    .call(d3.axisBottom(x).tickValues(fractionTicks).tickSize(3).tickPadding(3));
  [axL, axR, axB].forEach(a => {
    a.select(".domain").remove();
    a.selectAll(".tick line").style("stroke", "#8a8a8a");
    a.selectAll(".tick text").style("font-size", "10.5px").style("fill", "#262626")
      .style("font-family", "Lato, sans-serif");
  });

  // axis titles
  const cy = top + PH / 2;
  g.append("text")
    .attr("transform", `translate(${x0 - 33},${cy}) rotate(-90)`)
    .attr("text-anchor", "middle").attr("dominant-baseline", "central")
    .style("font-size", "14.5px").style("fill", "#222")
    .text(kind === "tg" ? "Triglycerides (mmol/L)" : "Cholesterol (mmol/L)");
  const rLines = kind === "tg" ? ["Chylomicrons Triglycerides", "(mmol/L)"] : ["Chylomicrons Cholesterol", "(mmol/L)"];
  const rOff = kind === "tg" ? [51, 35] : [55, 37];
  rLines.forEach((t, i) => {
    g.append("text")
      .attr("transform", `translate(${x0 + w + rOff[i]},${cy}) rotate(90)`)
      .attr("text-anchor", "middle").attr("dominant-baseline", "central")
      .style("font-size", "14.5px").style("fill", "#222")
      .text(t);
  });
  g.append("text")
    .attr("x", x0 + w / 2).attr("y", top + PH + 28)
    .attr("text-anchor", "middle")
    .style("font-size", "14.5px").style("fill", "#222")
    .text("Fraction");

  // region labels
  labels.forEach(([name, fx, fy]) => {
    const parts = name.split("|");
    const lg = g.append("g").attr("transform", `translate(${x(fx)},${y(fy)})`);
    const rect = lg.append("rect");
    const txt = lg.append("text").attr("text-anchor", "middle")
      .style("font-size", "11px").style("fill", "#222");
    const lh = 13;
    parts.forEach((p, i) => {
      txt.append("tspan").attr("x", 0)
        .attr("y", (i - (parts.length - 1) / 2) * lh)
        .attr("dy", "0.35em").text(p);
    });
    const tw = txt.node().getBBox().width;
    const bw = tw + 9, bh = parts.length * lh + 8;
    rect.attr("x", -bw / 2).attr("y", -bh / 2).attr("width", bw).attr("height", bh)
      .style("fill", "#fff").style("stroke", "#a0a0a0").style("stroke-width", 1.2);
  });
}

rows.forEach(r => {
  svg.append("text").attr("x", 8).attr("y", r.ty)
    .style("font-size", "22px").style("font-weight", 900).style("fill", "#1a1a1a")
    .text(r.letter);
  svg.append("text").attr("x", r.tx).attr("y", r.ty)
    .attr("textLength", r.tw).attr("lengthAdjust", "spacingAndGlyphs")
    .style("font-size", "22px").style("font-weight", 900).style("fill", "#1a1a1a")
    .text(r.title);
  drawPanel(r.xl, r.top, LW, "tg", r.tg);
  drawPanel(r.xr, r.top, RW, "ch", r.ch);
});

// grey disc cut by the right edge in the source image
svg.append("circle").attr("cx", 1090).attr("cy", 717).attr("r", 25).style("fill", "#c2c2c2");
</script>
</body>
</html>
